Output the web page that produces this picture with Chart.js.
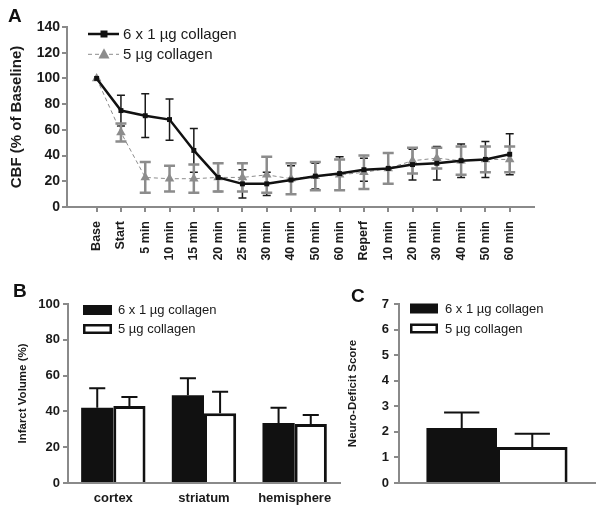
<!DOCTYPE html>
<html><head><meta charset="utf-8">
<script src="https://cdn.jsdelivr.net/npm/chart.js@4.4.1/dist/chart.umd.min.js"></script>
<style>
html,body{margin:0;padding:0;background:#fff;}
body{width:604px;height:512px;position:relative;overflow:hidden;font-family:'Liberation Sans',Arial,sans-serif;}
canvas{position:absolute;}
.lbl{position:absolute;font-weight:bold;font-size:19px;line-height:19px;color:#111;}
</style></head><body>
<canvas id="cA" width="604" height="280" style="left:0;top:0"></canvas>
<canvas id="cB" width="345" height="232" style="left:0;top:280px"></canvas>
<canvas id="cC" width="264" height="232" style="left:340px;top:280px"></canvas>
<div class="lbl" style="left:8px;top:6px">A</div>
<div class="lbl" style="left:13px;top:281px">B</div>
<div class="lbl" style="left:351px;top:286px">C</div>
<script>
const FONT = "'Liberation Sans', Arial, sans-serif";
const TEXT = '#1a1a1a';
const AXIS = '#8a8a8a';

// ---- Panel A data ----
const cbfLabels = ['Base','Start','5 min','10 min','15 min','20 min','25 min','30 min','40 min','50 min','60 min','Reperf','10 min','20 min','30 min','40 min','50 min','60 min'];
const cbf6x1    = [100, 75, 71, 68, 44, 23, 18, 18, 21, 24, 26, 29, 30, 33, 34, 36, 37, 41];
const cbf6x1Err = [0, 12, 17, 16, 17, 11, 11, 9, 11, 10, 13, 9, 12, 12, 13, 13, 14, 16];
const cbf5      = [100, 58, 23, 22, 22, 23, 23, 25, 22, 24, 25, 27, 30, 36, 38, 36, 37, 37];
const cbf5Err   = [0, 7, 12, 10, 11, 11, 11, 14, 12, 11, 12, 13, 12, 10, 8, 11, 10, 10];
const cbfTicks  = [0, 20, 40, 60, 80, 100, 120, 140];

// ---- Panel B data ----
const regions = ['cortex', 'striatum', 'hemisphere'];
const infarct6x1    = [42, 49, 33.5];
const infarct6x1Err = [11, 9.5, 8.5];
const infarct5      = [43, 39, 33];
const infarct5Err   = [5, 12, 5];
const infarctTicks  = [0, 20, 40, 60, 80, 100];

// ---- Panel C data ----
const deficit6x1    = [2.15];
const deficit6x1Err = [0.61];
const deficit5      = [1.41];
const deficit5Err   = [0.52];
const deficitTicks  = [0, 1, 2, 3, 4, 5, 6, 7];

const seriesNames = ['6 x 1 µg collagen', '5 µg collagen'];

Chart.defaults.font.family = FONT;
Chart.defaults.color = TEXT;

function drawErrors(chart) {
  const ctx = chart.ctx, ys = chart.scales.y;
  const isLine = chart.config.type === 'line';
  chart.data.datasets.forEach((ds, di) => {
    const meta = chart.getDatasetMeta(di);
    const e = ds.errStyle;
    ctx.save();
    ctx.strokeStyle = e.color; ctx.lineWidth = e.width; ctx.lineCap = 'butt';
    meta.data.forEach((el, i) => {
      const err = ds.errors[i];
      if (!err) return;
      const v = isLine ? ds.data[i].y : ds.data[i];
      const top = ys.getPixelForValue(v + err);
      const bot = e.oneSided ? el.y : ys.getPixelForValue(v - err);
      const half = e.cap != null ? e.cap / 2 : el.width / 4;
      ctx.beginPath();
      ctx.moveTo(el.x, top); ctx.lineTo(el.x, bot);
      ctx.moveTo(el.x - half, top); ctx.lineTo(el.x + half, top);
      if (!e.oneSided) { ctx.moveTo(el.x - half, bot); ctx.lineTo(el.x + half, bot); }
      ctx.stroke();
    });
    ctx.restore();
  });
}
const errorBarPlugin = {
  id: 'errorBars',
  beforeDatasetsDraw(chart) { if (chart.config.type === 'line') drawErrors(chart); },
  afterDatasetsDraw(chart) { if (chart.config.type === 'bar') drawErrors(chart); }
};

function marker(ctx, style, x, y, r, color) {
  ctx.fillStyle = color;
  ctx.beginPath();
  if (style === 'rect') {
    ctx.rect(x - r, y - r, 2 * r, 2 * r);
  } else {
    ctx.moveTo(x, y - r * 1.1);
    ctx.lineTo(x + r, y + r * 0.75);
    ctx.lineTo(x - r, y + r * 0.75);
    ctx.closePath();
  }
  ctx.fill();
}

const lineLegend = {
  id: 'lineLegend',
  afterDraw(chart) {
    const ctx = chart.ctx;
    chart.data.datasets.forEach((ds, i) => {
      const y = 34 + i * 20.3, x0 = 88, x1 = 119;
      ctx.save();
      ctx.strokeStyle = ds.borderColor; ctx.lineWidth = ds.borderWidth;
      ctx.setLineDash(ds.borderDash || []);
      ctx.beginPath(); ctx.moveTo(x0, y); ctx.lineTo(x1, y); ctx.stroke();
      ctx.setLineDash([]);
      marker(ctx, ds.pointStyle, 104, y, ds.pointRadius, ds.pointBackgroundColor);
      ctx.fillStyle = TEXT; ctx.font = '15px ' + FONT; ctx.textBaseline = 'middle';
      ctx.fillText(ds.label, 123, y + 0.5);
      ctx.restore();
    });
  }
};

function boxLegend(x, y0, dy, w, h, tx, size) {
  return {
    id: 'boxLegend',
    afterDraw(chart) {
      const ctx = chart.ctx;
      chart.data.datasets.forEach((ds, i) => {
        const y = y0 + i * dy;
        ctx.save();
        ctx.fillStyle = ds.backgroundColor;
        ctx.fillRect(x, y - h / 2, w, h);
        if (ds.borderWidth) {
          ctx.lineWidth = 2.5; ctx.strokeStyle = ds.borderColor;
          ctx.strokeRect(x + 1.25, y - h / 2 + 1.25, w - 2.5, h - 2.5);
        }
        ctx.fillStyle = TEXT; ctx.font = size + 'px ' + FONT; ctx.textBaseline = 'middle';
        ctx.fillText(ds.label, tx, y + 0.5);
        ctx.restore();
      });
    }
  };
}

const axisGrid = { drawOnChartArea: false, drawTicks: true, tickLength: 5, color: AXIS, lineWidth: 2 };
const axisBorder = { display: true, color: AXIS, width: 2 };

// ---- Panel A ----
new Chart(document.getElementById('cA'), {
  type: 'line',
  data: {
    datasets: [
      {
        label: seriesNames[0],
        data: cbf6x1.map((v, i) => ({ x: i, y: v })),
        errors: cbf6x1Err,
        errStyle: { color: '#1a1a1a', width: 1.5, cap: 8 },
        borderColor: '#111', borderWidth: 2.5,
        pointStyle: 'rect', pointRadius: 3.5, pointBackgroundColor: '#111', pointBorderWidth: 0,
        tension: 0
      },
      {
        label: seriesNames[1],
        data: cbf5.map((v, i) => ({ x: i, y: v })),
        errors: cbf5Err,
        errStyle: { color: '#8c8c8c', width: 2.5, cap: 11 },
        borderColor: '#8c8c8c', borderWidth: 1, borderDash: [4, 3],
        pointStyle: 'triangle', pointRadius: 5.5, pointBackgroundColor: '#8c8c8c', pointBorderWidth: 0,
        tension: 0
      }
    ]
  },
  options: {
    responsive: false, animation: false, devicePixelRatio: 1,
    layout: { padding: { left: 0, top: 27, right: 70, bottom: 0 } },
    plugins: { legend: { display: false }, tooltip: { enabled: false } },
    scales: {
      x: {
        type: 'linear', min: -1.22, max: 18.0,
        afterBuildTicks: s => { s.ticks = cbfLabels.map((_, i) => ({ value: i })); },
        afterFit: s => { s.height = 73; },
        grid: axisGrid, border: axisBorder,
        ticks: {
          autoSkip: false, minRotation: 90, maxRotation: 90, padding: 9,
          color: TEXT, font: { size: 12.5, weight: 'bold' },
          callback: v => cbfLabels[v]
        }
      },
      y: {
        min: 0, max: 140,
        afterBuildTicks: s => { s.ticks = cbfTicks.map(v => ({ value: v })); },
        afterFit: s => { s.width = 67; },
        grid: axisGrid, border: axisBorder,
        ticks: { padding: 2, color: TEXT, font: { size: 14, weight: 'bold' } },
        title: { display: true, text: 'CBF (% of Baseline)', color: TEXT, font: { size: 15, weight: 'bold' }, padding: { top: 8, bottom: 0 } }
      }
    }
  },
  plugins: [errorBarPlugin, lineLegend]
});

// ---- Panel B ----
new Chart(document.getElementById('cB'), {
  type: 'bar',
  data: {
    labels: regions,
    datasets: [
      { label: seriesNames[0], data: infarct6x1, errors: infarct6x1Err, errStyle: { color: '#111', width: 2, oneSided: true },
        backgroundColor: '#111', borderColor: '#111', borderWidth: 0 },
      { label: seriesNames[1], data: infarct5, errors: infarct5Err, errStyle: { color: '#111', width: 2, oneSided: true },
        backgroundColor: '#fff', borderColor: '#111', borderWidth: 3 }
    ]
  },
  options: {
    responsive: false, animation: false, devicePixelRatio: 1,
    datasets: { bar: { categoryPercentage: 0.71, barPercentage: 1.0 } },
    layout: { padding: { left: 0, top: 24, right: 5, bottom: 0 } },
    plugins: { legend: { display: false }, tooltip: { enabled: false } },
    scales: {
      x: {
        afterFit: s => { s.height = 29; },
        grid: { drawOnChartArea: false, drawTicks: false }, border: axisBorder,
        ticks: { padding: 8, color: TEXT, font: { size: 13, weight: 'bold' } }
      },
      y: {
        min: 0, max: 100,
        afterBuildTicks: s => { s.ticks = infarctTicks.map(v => ({ value: v })); },
        afterFit: s => { s.width = 68; },
        grid: axisGrid, border: axisBorder,
        ticks: { padding: 3, color: TEXT, font: { size: 13, weight: 'bold' } },
        title: { display: true, text: 'Infarct Volume (%)', color: TEXT, font: { size: 11.5, weight: 'bold' }, padding: { top: 16, bottom: 0 } }
      }
    }
  },
  plugins: [errorBarPlugin, boxLegend(83, 30, 19, 29, 10, 118, 13)]
});

// ---- Panel C ----
new Chart(document.getElementById('cC'), {
  type: 'bar',
  data: {
    labels: [''],
    datasets: [
      { label: seriesNames[0], data: deficit6x1, errors: deficit6x1Err, errStyle: { color: '#111', width: 2, oneSided: true },
        backgroundColor: '#111', borderColor: '#111', borderWidth: 0 },
      { label: seriesNames[1], data: deficit5, errors: deficit5Err, errStyle: { color: '#111', width: 2, oneSided: true },
        backgroundColor: '#fff', borderColor: '#111', borderWidth: 3 }
    ]
  },
  options: {
    responsive: false, animation: false, devicePixelRatio: 1,
    datasets: { bar: { categoryPercentage: 0.72, barPercentage: 1.0 } },
    layout: { padding: { left: 0, top: 24, right: 9, bottom: 0 } },
    plugins: { legend: { display: false }, tooltip: { enabled: false } },
    scales: {
      x: {
        afterFit: s => { s.height = 29; },
        grid: { drawOnChartArea: false, drawTicks: false }, border: axisBorder,
        ticks: { display: false }
      },
      y: {
        min: 0, max: 7,
        afterBuildTicks: s => { s.ticks = deficitTicks.map(v => ({ value: v })); },
        afterFit: s => { s.width = 59; },
        grid: axisGrid, border: axisBorder,
        ticks: { padding: 5, color: TEXT, font: { size: 13, weight: 'bold' } },
        title: { display: true, text: 'Neuro-Deficit Score', color: TEXT, font: { size: 11.5, weight: 'bold' }, padding: { top: 6, bottom: 0 } }
      }
    }
  },
  plugins: [errorBarPlugin, boxLegend(70, 28.5, 20, 28, 10, 105, 13)]
});
</script>
</body></html>
